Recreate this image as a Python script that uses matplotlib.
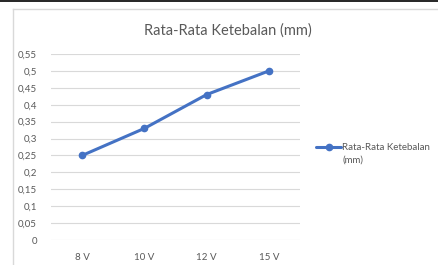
import matplotlib
matplotlib.use("Agg")
import matplotlib.pyplot as plt
from matplotlib.lines import Line2D

categories = ["8 V", "10 V", "12 V", "15 V"]
values = [0.25, 0.33, 0.43, 0.50]
yticks = [0, 0.05, 0.1, 0.15, 0.2, 0.25, 0.3, 0.35, 0.4, 0.45, 0.5, 0.55]
series_name = ["Rata-Rata Ketebalan", "(mm)"]
title = "Rata-Rata Ketebalan (mm)"

plt.rcParams['font.family'] = ['Lato', 'DejaVu Sans']

W, H = 439, 265
fig = plt.figure(figsize=(W / 100, H / 100), dpi=100)
fig.patch.set_facecolor("white")

def fx(px):
    return px / W

def fy(py):
    return 1 - py / H

ax = fig.add_axes([fx(51), fy(240), fx(300) - fx(51), fy(54) - fy(240)])
x = list(range(len(categories)))
ax.plot(x, values, color="#4472C4", lw=2.2, marker="o", ms=4.5,
        label=series_name[0], solid_capstyle="round")
ax.set_xlim(-0.5, len(categories) - 0.5)
ax.set_ylim(0, 0.55)
ax.set_yticks(yticks)
ax.set_yticklabels([("%g" % v).replace(".", ",") for v in yticks])
ax.set_xticks(x)
ax.set_xticklabels(categories)
ax.grid(axis="y", color="#D9D9D9", lw=0.8)
ax.set_axisbelow(True)
for s in ax.spines.values():
    s.set_visible(False)
ax.tick_params(axis="both", length=0, colors="#595959", labelsize=7)
ax.tick_params(axis="y", pad=10)
ax.tick_params(axis="x", pad=9)

fig.text(fx(228), fy(31), title, ha="center", va="center",
         fontsize=10.5, color="#595959")

leg = fig.legend(handles=ax.get_lines(), loc="center left",
                 bbox_to_anchor=(fx(316), fy(148)), frameon=False,
                 fontsize=7, handlelength=2.6, handletextpad=0.1,
                 borderaxespad=0, borderpad=0)
for t in leg.get_texts():
    t.set_color("#595959")
fig.text(fx(343), fy(160), series_name[1], ha="left", va="center",
         fontsize=7, color="#595959")

# chart border and top dark line
fig.add_artist(Line2D([fx(13), fx(13)], [fy(9), fy(265)], color="#D9D9D9", lw=1))
fig.add_artist(Line2D([fx(13), fx(439)], [fy(9), fy(9)], color="#D9D9D9", lw=1))
fig.add_artist(Line2D([0, 1], [fy(0.6), fy(0.6)], color="black", lw=1.2))

fig.savefig("out.png", dpi=100, facecolor="white")
